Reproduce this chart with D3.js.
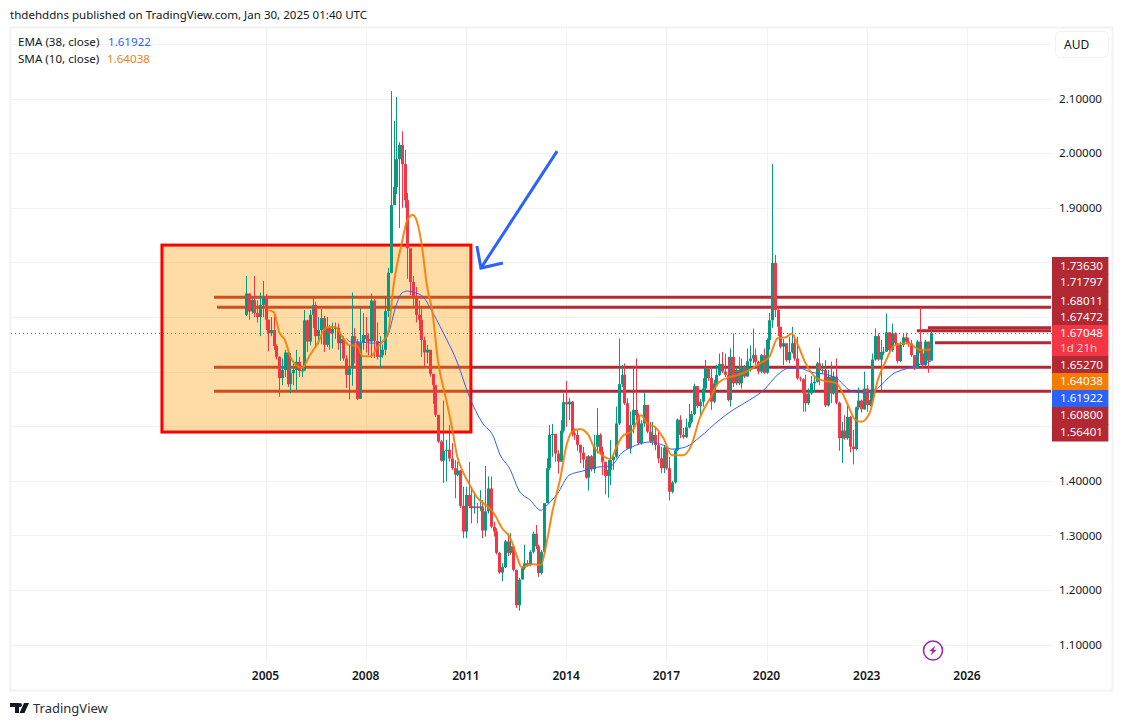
<!DOCTYPE html>
<html><head><meta charset="utf-8">
<script src="https://cdnjs.cloudflare.com/ajax/libs/d3/7.8.5/d3.min.js"></script>
<style>html,body{margin:0;padding:0;background:#fff}svg{display:block}text{font-family:"Noto Sans",sans-serif}</style>
</head><body><svg id="c" width="1123" height="726"></svg>
<script>
const firstMonth = [2004, 5];
const firstOpen = 1.704;
const closes = [1.743,1.710,1.731,1.707,1.700,1.722,1.735,1.695,1.670,1.676,
1.647,1.627,1.588,1.603,1.635,1.577,1.597,1.603,1.618,1.601,
1.602,1.694,1.655,1.704,1.722,1.665,1.676,1.698,1.649,1.680,
1.670,1.678,1.680,1.652,1.660,1.624,1.594,1.606,1.665,1.655,
1.550,1.653,1.667,1.660,1.655,1.730,1.656,1.627,1.630,1.640,
1.711,1.781,1.905,1.938,1.989,2.015,1.980,1.914,1.826,1.764,
1.737,1.704,1.695,1.658,1.635,1.640,1.596,1.575,1.521,1.472,
1.437,1.455,1.457,1.441,1.423,1.411,1.419,1.354,1.307,1.374,
1.354,1.350,1.353,1.350,1.353,1.309,1.344,1.386,1.316,1.307,
1.268,1.232,1.242,1.289,1.268,1.280,1.237,1.172,1.219,1.240,
1.249,1.246,1.270,1.303,1.280,1.231,1.270,1.359,1.423,1.484,
1.486,1.450,1.435,1.492,1.544,1.540,1.545,1.487,1.484,1.466,
1.4515,1.439,1.406,1.445,1.421,1.4625,1.484,1.453,1.435,1.409,
1.420,1.438,1.444,1.505,1.577,1.594,1.542,1.459,1.502,1.530,
1.520,1.469,1.505,1.539,1.490,1.472,1.484,1.4655,1.441,1.423,
1.461,1.423,1.380,1.397,1.456,1.512,1.484,1.480,1.498,1.508,
1.522,1.5735,1.537,1.545,1.569,1.606,1.588,1.545,1.5785,1.594,
1.614,1.600,1.594,1.548,1.627,1.5785,1.603,1.5785,1.609,1.591,
1.619,1.624,1.630,1.618,1.600,1.630,1.598,1.658,1.694,1.799,
1.7126,1.682,1.6456,1.652,1.621,1.636,1.652,1.624,1.5877,1.586,
1.560,1.542,1.560,1.5785,1.5815,1.615,1.602,1.603,1.538,1.591,
1.560,1.591,1.543,1.478,1.492,1.478,1.517,1.4626,1.458,1.5346,
1.547,1.531,1.569,1.539,1.548,1.622,1.665,1.622,1.636,1.6365,
1.672,1.6395,1.670,1.6517,1.6194,1.6487,1.6627,1.6547,1.6517,1.630,
1.606,1.655,1.6334,1.612,1.655,1.620,1.67048];
const highs = [1.775,1.743,1.735,1.775,1.730,1.745,1.766,1.742,1.695,1.700,
1.704,1.650,1.628,1.624,1.640,1.637,1.634,1.616,1.640,1.627,
1.606,1.713,1.695,1.713,1.736,1.728,1.700,1.715,1.702,1.700,
1.685,1.690,1.690,1.688,1.668,1.665,1.630,1.648,1.745,1.680,
1.660,1.716,1.707,1.700,1.670,1.743,1.733,1.690,1.665,1.650,
1.735,1.790,2.114,2.059,2.103,2.020,2.040,2.006,1.927,1.800,
1.775,1.755,1.730,1.716,1.664,1.649,1.638,1.594,1.575,1.520,
1.475,1.547,1.475,1.502,1.469,1.438,1.435,1.420,1.389,1.389,
1.435,1.386,1.380,1.359,1.383,1.365,1.427,1.408,1.408,1.325,
1.313,1.270,1.249,1.292,1.304,1.304,1.274,1.237,1.222,1.243,
1.283,1.255,1.273,1.307,1.319,1.283,1.273,1.359,1.441,1.502,
1.504,1.486,1.456,1.511,1.560,1.583,1.552,1.546,1.496,1.494,
1.466,1.462,1.445,1.447,1.447,1.484,1.533,1.487,1.4625,1.435,
1.438,1.475,1.450,1.536,1.661,1.612,1.615,1.551,1.527,1.609,
1.624,1.5235,1.511,1.563,1.539,1.508,1.508,1.499,1.490,1.462,
1.465,1.4625,1.444,1.400,1.459,1.514,1.520,1.497,1.514,1.5406,
1.528,1.578,1.5735,1.550,1.588,1.621,1.609,1.609,1.585,1.612,
1.633,1.636,1.633,1.627,1.6425,1.670,1.609,1.627,1.624,1.612,
1.6425,1.648,1.679,1.6425,1.620,1.632,1.6425,1.661,1.707,1.980,
1.8135,1.720,1.682,1.660,1.649,1.664,1.682,1.667,1.664,1.591,
1.588,1.594,1.569,1.592,1.591,1.618,1.644,1.615,1.621,1.603,
1.618,1.600,1.624,1.545,1.508,1.520,1.539,1.519,1.493,1.536,
1.571,1.549,1.600,1.5755,1.565,1.633,1.679,1.670,1.658,1.645,
1.7066,1.672,1.688,1.672,1.652,1.655,1.670,1.671,1.662,1.658,
1.630,1.658,1.7176,1.640,1.658,1.655,1.679];
const lows = [1.702,1.695,1.706,1.700,1.690,1.665,1.700,1.676,1.637,1.665,
1.640,1.622,1.554,1.575,1.590,1.572,1.560,1.575,1.566,1.590,
1.590,1.601,1.636,1.648,1.680,1.645,1.650,1.650,1.636,1.645,
1.640,1.642,1.660,1.640,1.620,1.620,1.570,1.549,1.574,1.615,
1.548,1.550,1.640,1.635,1.630,1.625,1.625,1.622,1.606,1.625,
1.630,1.700,1.780,1.905,1.925,1.863,1.900,1.900,1.770,1.740,
1.720,1.690,1.675,1.627,1.609,1.615,1.591,1.541,1.517,1.469,
1.435,1.396,1.399,1.435,1.420,1.368,1.408,1.350,1.295,1.295,
1.350,1.322,1.340,1.322,1.345,1.295,1.298,1.340,1.313,1.298,
1.265,1.230,1.216,1.240,1.262,1.264,1.234,1.167,1.162,1.220,
1.237,1.243,1.243,1.267,1.275,1.224,1.228,1.267,1.359,1.420,
1.444,1.435,1.413,1.435,1.488,1.499,1.511,1.481,1.475,1.455,
1.432,1.423,1.404,1.382,1.417,1.414,1.450,1.447,1.410,1.375,
1.369,1.392,1.420,1.441,1.502,1.572,1.539,1.459,1.450,1.487,
1.511,1.466,1.466,1.499,1.487,1.469,1.465,1.456,1.432,1.414,
1.414,1.420,1.364,1.377,1.395,1.454,1.478,1.477,1.478,1.496,
1.505,1.520,1.533,1.520,1.536,1.566,1.583,1.530,1.542,1.575,
1.592,1.597,1.590,1.545,1.536,1.572,1.575,1.575,1.569,1.588,
1.590,1.600,1.615,1.612,1.595,1.597,1.596,1.596,1.640,1.680,
1.700,1.665,1.642,1.612,1.618,1.615,1.633,1.620,1.585,1.582,
1.5266,1.5266,1.539,1.557,1.563,1.580,1.575,1.596,1.535,1.536,
1.542,1.558,1.540,1.455,1.433,1.475,1.475,1.452,1.430,1.456,
1.530,1.525,1.530,1.5266,1.536,1.545,1.620,1.620,1.563,1.630,
1.636,1.636,1.636,1.648,1.615,1.617,1.645,1.650,1.645,1.627,
1.603,1.606,1.615,1.606,1.610,1.598,1.621];

const smaBars = [8,10,12,14,16,18,20,23,26,28,30,32,35,37,40,42,45,47,51,53,56,58,60,61,63,65,67,69,72,74,76,78,80,83,87,89,92,95,97,99,103,106,108,110,113,115,117,120,123,125,127,131,133,135,139,142,144,147,150,153,157,160,163,167,170,174,177,181,185,188,191,194,196,198,201,205,207,212,216,219,221,224,227,230,233,238,242,246];
const smaValues = [1.7126,1.709,1.672,1.658,1.6265,1.612,1.6065,1.630,1.654,1.676,1.6815,1.6815,1.661,1.6485,1.647,1.628,1.628,1.643,1.6705,1.758,1.837,1.8775,1.887,1.881,1.837,1.758,1.707,1.621,1.548,1.498,1.443,1.416,1.396,1.370,1.352,1.341,1.313,1.295,1.267,1.242,1.247,1.246,1.286,1.341,1.407,1.462,1.489,1.495,1.484,1.462,1.451,1.440,1.460,1.480,1.493,1.520,1.506,1.498,1.478,1.447,1.447,1.465,1.515,1.553,1.581,1.590,1.594,1.603,1.616,1.627,1.661,1.663,1.670,1.652,1.616,1.588,1.584,1.579,1.542,1.511,1.508,1.524,1.584,1.621,1.648,1.652,1.640,1.64038];
const emaBars = [36,38,42,45,49,51,54,56,58,60,64,66,71,76,80,85,89,91,95,98,102,106,107,112,116,121,126,131,135,140,145,150,153,158,163,170,175,181,186,191,195,199,203,209,212,217,222,227,232,239,246];
const emaValues = [1.661,1.654,1.654,1.652,1.654,1.667,1.722,1.744,1.7475,1.746,1.735,1.718,1.6705,1.616,1.557,1.506,1.480,1.451,1.420,1.383,1.365,1.346,1.350,1.377,1.410,1.418,1.425,1.427,1.451,1.465,1.471,1.465,1.458,1.462,1.480,1.511,1.530,1.548,1.566,1.594,1.606,1.606,1.599,1.594,1.588,1.566,1.561,1.570,1.594,1.608,1.61922];

const priceTicks = [1.1,1.2,1.3,1.4,1.5,1.6,1.7,1.8,1.9,2.0,2.1,2.2];
const priceLabels = [1.1,1.2,1.3,1.4,1.9,2.0,2.1];
const yearTicks = [2005,2008,2011,2014,2017,2020,2023,2026];
const lastPrice = 1.67048, smaLast = 1.64038, emaLast = 1.61922;
const levelPrices = [1.7363,1.71797,1.68011,1.67472,1.6527,1.608,1.56401];
const levelStartYears = [2003.46,2003.55,2024.83,2024.5,2025.04,2003.46,2003.46];
const boxYears = [2001.9,2011.15];
const boxPrices = [1.8317,1.4893];
const arrowYears = [2013.73,2011.45];
const arrowPrices = [2.0039,1.7896];
const arrowHeadYears = [2011.33,2011.45,2012.11];
const arrowHeadPrices = [1.830,1.7896,1.799];
const axisLabels = ["1.73630","1.71797","1.68011","1.67472","1.67048","1d 21h","1.65270","1.64038","1.61922","1.60800","1.56401"];

const GREEN="#089981",RED="#f23645",DARK="#b22833",BLUE="#2962ff",ORANGE="#f57c00",GRID="#f1f2f4",TXT="#131722";
const FS=11.6;
const svg=d3.select("#c");
const date=y=>{const f=Math.floor(y);return new Date(Date.UTC(f,0,1)+(y-f)*365.25*864e5)};
const x=d3.scaleUtc().domain([new Date(Date.UTC(2005,0,1)),new Date(Date.UTC(2026,0,1))]).range([265.5,967]);
const y=d3.scaleLinear().domain([1.1,2.1]).range([644.6,98.6]);
const barDate=i=>new Date(Date.UTC(firstMonth[0],firstMonth[1]+i,1));
const bars=closes.map((c,i)=>({t:barDate(i),o:i?closes[i-1]:firstOpen,h:highs[i],l:lows[i],c}));

svg.append("text").attr("x",10).attr("y",19).attr("font-size",11.55).attr("fill",TXT).text("thdehddns published on TradingView.com, Jan 30, 2025 01:40 UTC");
svg.append("rect").attr("x",10.5).attr("y",27.5).attr("width",1102).attr("height",663).attr("fill","none").attr("stroke",GRID).attr("stroke-width",2);

const gridY=svg.append("g");
gridY.selectAll("line").data(priceTicks).join("line").attr("x1",11).attr("x2",1052).attr("y1",d=>Math.round(y(d))+.5).attr("y2",d=>Math.round(y(d))+.5).attr("stroke",GRID);
const gridX=svg.append("g");
gridX.selectAll("line").data(yearTicks).join("line").attr("y1",28).attr("y2",662)
 .attr("x1",d=>Math.round(x(new Date(Date.UTC(d,0,1))))+.5).attr("x2",d=>Math.round(x(new Date(Date.UTC(d,0,1))))+.5).attr("stroke",GRID);

svg.append("line").attr("x1",11).attr("x2",1052).attr("y1",Math.round(y(lastPrice))+.5).attr("y2",Math.round(y(lastPrice))+.5).attr("stroke",RED).attr("stroke-dasharray","1 3");

svg.append("g").selectAll("line").data(levelPrices).join("line")
 .attr("x1",(d,i)=>x(date(levelStartYears[i]))).attr("x2",1051)
 .attr("y1",d=>y(d)).attr("y2",d=>y(d)).attr("stroke",DARK).attr("stroke-width",3);

svg.append("rect").attr("x",x(date(boxYears[0]))).attr("y",y(boxPrices[0]))
 .attr("width",x(date(boxYears[1]))-x(date(boxYears[0]))).attr("height",y(boxPrices[1])-y(boxPrices[0]))
 .attr("fill","rgba(255,152,0,0.35)").attr("stroke","#ff0000").attr("stroke-width",3);

const cg=svg.append("g");
const snap=d=>Math.round(x(d.t));
const cand=cg.selectAll("g").data(bars).join("g");
cand.append("line").attr("x1",d=>snap(d)+.5).attr("x2",d=>snap(d)+.5).attr("y1",d=>y(d.h)).attr("y2",d=>y(d.l))
 .attr("stroke",d=>d.c>=d.o?GREEN:RED).attr("stroke-width",1);
cand.append("rect").attr("x",d=>snap(d)-1).attr("width",3)
 .attr("y",d=>y(Math.max(d.o,d.c))).attr("height",d=>Math.max(1,Math.abs(y(d.o)-y(d.c))))
 .attr("fill",d=>d.c>=d.o?GREEN:RED);

const ma=d3.line().x(d=>x(barDate(d[0]))).y(d=>y(d[1])).curve(d3.curveMonotoneX);
svg.append("path").attr("d",ma(emaBars.map((b,i)=>[b,emaValues[i]]))).attr("fill","none").attr("stroke",BLUE).attr("stroke-width",1);
svg.append("path").attr("d",ma(smaBars.map((b,i)=>[b,smaValues[i]]))).attr("fill","none").attr("stroke",ORANGE).attr("stroke-width",2).attr("stroke-opacity",.9);

const al=d3.line().x(d=>x(date(d[0]))).y(d=>y(d[1]));
svg.append("path").attr("d",al(arrowYears.map((v,i)=>[v,arrowPrices[i]]))).attr("stroke",BLUE).attr("stroke-width",3).attr("fill","none");
svg.append("path").attr("d",al(arrowHeadYears.map((v,i)=>[v,arrowHeadPrices[i]]))).attr("stroke",BLUE).attr("stroke-width",3).attr("fill","none");

svg.append("g").selectAll("text").data(priceLabels).join("text")
 .attr("x",1102).attr("y",d=>y(d)+4.2).attr("text-anchor","end").attr("font-size",FS).attr("fill",TXT).text(d=>d3.format(".5f")(d));
svg.append("g").selectAll("text").data(yearTicks).join("text")
 .attr("x",d=>x(new Date(Date.UTC(d,0,1)))).attr("y",680).attr("text-anchor","middle").attr("font-size",12).attr("font-weight",600).attr("fill",TXT).text(d=>d);

// stacked price labels
const stackY=[257,274,291,309,325,341,356,373,390,407,424,441];
const stackText=[265.5,282,300.5,317,333,348,364.5,381,398,415,432];
const stackFill=[DARK,DARK,DARK,DARK,RED,RED,DARK,ORANGE,BLUE,DARK,DARK];
const stack=svg.append("g");
stackFill.forEach((f,i)=>stack.append("rect").attr("x",1052).attr("y",stackY[i]).attr("width",56.4).attr("height",stackY[i+1]-stackY[i]+.5).attr("fill",f));
axisLabels.forEach((t,i)=>stack.append("text").attr("x",1060).attr("y",stackText[i]+4.2).attr("font-size",FS)
 .attr("fill",t==="1d 21h"?"#fbd0d6":"#fff").text(t));

// legend
[["EMA (38, close)",emaLast,BLUE,46,108],["SMA (10, close)",smaLast,"#f57f17",63,107]].forEach(r=>{
 svg.append("text").attr("x",18).attr("y",r[3]).attr("font-size",FS).attr("fill",TXT).text(r[0]);
 svg.append("text").attr("x",r[4]).attr("y",r[3]).attr("font-size",FS).attr("fill",r[2]).text(d3.format(".5f")(r[1]));
});

// currency button
svg.append("rect").attr("x",1055.5).attr("y",31.5).attr("width",53).attr("height",26).attr("rx",5).attr("fill","#fff").attr("stroke",GRID);
svg.append("text").attr("x",1064).attr("y",49).attr("font-size",12).attr("fill",TXT).text("AUD");

// bolt icon
const b=svg.append("g").attr("transform","translate(933,650.5)");
b.append("circle").attr("r",9.5).attr("fill","#fff").attr("stroke","#9c27b0").attr("stroke-width",1.6);
b.append("path").attr("d","M2.5-5L-3.8 0.8H-0.6L-2.5 5L3.8-0.8H0.6Z").attr("fill","#9c27b0");

// footer logo
svg.append("path").attr("d","M10 703H19V713H15V707H10ZM20 703A2 2 0 1 1 20 707A2 2 0 1 1 20 703ZM24 703H29L24.5 713H19.5Z").attr("fill",TXT);
svg.append("text").attr("x",33).attr("y",713).attr("font-size",13).attr("fill","#2a2e39").text("TradingView");
</script></body></html>
